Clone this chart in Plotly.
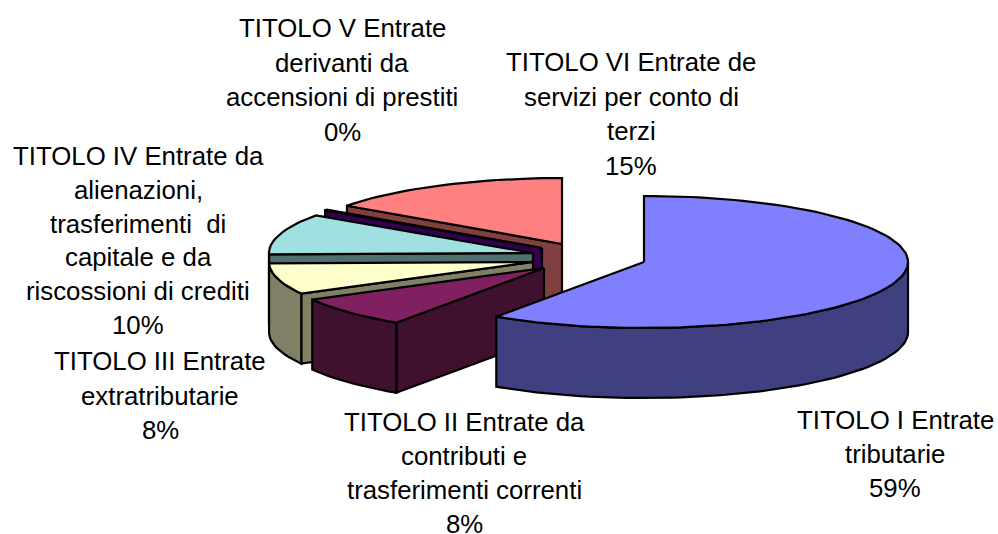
import math
import plotly.graph_objects as go

# Data (clockwise from 12 o'clock)
names = [
    ["TITOLO I Entrate", "tributarie"],
    ["TITOLO II Entrate da", "contributi e", "trasferimenti correnti"],
    ["TITOLO III Entrate", "extratributarie"],
    ["TITOLO IV Entrate da", "alienazioni,", "trasferimenti\u00a0 di", "capitale e da", "riscossioni di crediti"],
    ["TITOLO V Entrate", "derivanti da", "accensioni di prestiti"],
    ["TITOLO VI Entrate de", "servizi per conto di", "terzi"],
]
values = [59.45, 7.6, 7.6, 10.0, 0.2, 15.15]

# Styles and pie geometry (pixel-scaled axes)
top_colors = ["#8080FF", "#802060", "#FFFFCC", "#A0E0E0", "#660066", "#FF8080"]
wall_colors = ["#404080", "#40102F", "#808066", "#507070", "#33004D", "#804040"]
centre = (550, 255)
explode_dx = [94, -6, -17, -17, -8, 12]
explode_dy = [7, 13, 7, -2, -7, -11]
RX, RY, DEPTH = 264, 66, 70
label_x = [895, 464, 160, 138, 342, 631]
label_y0 = [420, 422, 361, 156, 28, 62]
line_gap = [34, 34, 34.5, 33.8, 34.7, 34.7]
FONT = "Liberation Sans, Arial, sans-serif"
FS = 25.8

fig = go.Figure()


def pt(ax, ay, deg):
    r = math.radians(deg)
    return ax + RX * math.sin(r), ay - RY * math.cos(r)


def poly(xs, ys, color):
    fig.add_trace(go.Scatter(
        x=xs + xs[:1], y=ys + ys[:1], mode="lines", fill="toself", fillcolor=color,
        line=dict(color="black", width=2.2), hoverinfo="skip", showlegend=False))


def arc(ax, ay, a0, a1):
    n = max(2, int(abs(a1 - a0) / 2) + 1)
    pts = [pt(ax, ay, a0 + (a1 - a0) * i / (n - 1)) for i in range(n)]
    return [p[0] for p in pts], [p[1] for p in pts]


total = sum(values)
spans = []
cum = 0.0
for v in values:
    a0 = cum / total * 360
    cum += v
    spans.append((a0, cum / total * 360))

# Painter order: back slices first, the large front slice last
for i in [5, 4, 3, 2, 1, 0]:
    a0, a1 = spans[i]
    ax, ay = centre[0] + explode_dx[i], centre[1] + explode_dy[i]
    # radial wall on the start edge, visible for slices on the left half
    if a0 > 180:
        sx, sy = pt(ax, ay, a0)
        poly([ax, sx, sx, ax], [ay, sy, sy + DEPTH, ay + DEPTH], wall_colors[i])
    # outer wall, only the front half of the rim shows
    w0, w1 = max(a0, 90), min(a1, 270)
    if w1 > w0:
        xs, ys = arc(ax, ay, w0, w1)
        poly(xs + xs[::-1], ys + [y + DEPTH for y in ys[::-1]], wall_colors[i])
    # top face
    xs, ys = arc(ax, ay, a0, a1)
    poly([ax] + xs, [ay] + ys, top_colors[i])

annotations = []
for i, lines in enumerate(names):
    pct = f"{round(values[i] / total * 100)}%"
    for j, text in enumerate(lines + [pct]):
        annotations.append(dict(
            x=label_x[i], y=label_y0[i] + j * line_gap[i], text=text, showarrow=False,
            xanchor="center", yanchor="middle", xref="x", yref="y",
            font=dict(family=FONT, size=FS, color="black")))

fig.update_layout(
    width=998, height=534, margin=dict(l=0, r=0, t=0, b=0),
    paper_bgcolor="white", plot_bgcolor="white", showlegend=False,
    annotations=annotations,
    xaxis=dict(range=[0, 998], visible=False, fixedrange=True),
    yaxis=dict(range=[534, 0], visible=False, fixedrange=True),
)
fig.write_html("out.html", config=dict(displayModeBar=False),
               post_script="document.body.style.margin='0';document.documentElement.style.overflow='hidden';")
